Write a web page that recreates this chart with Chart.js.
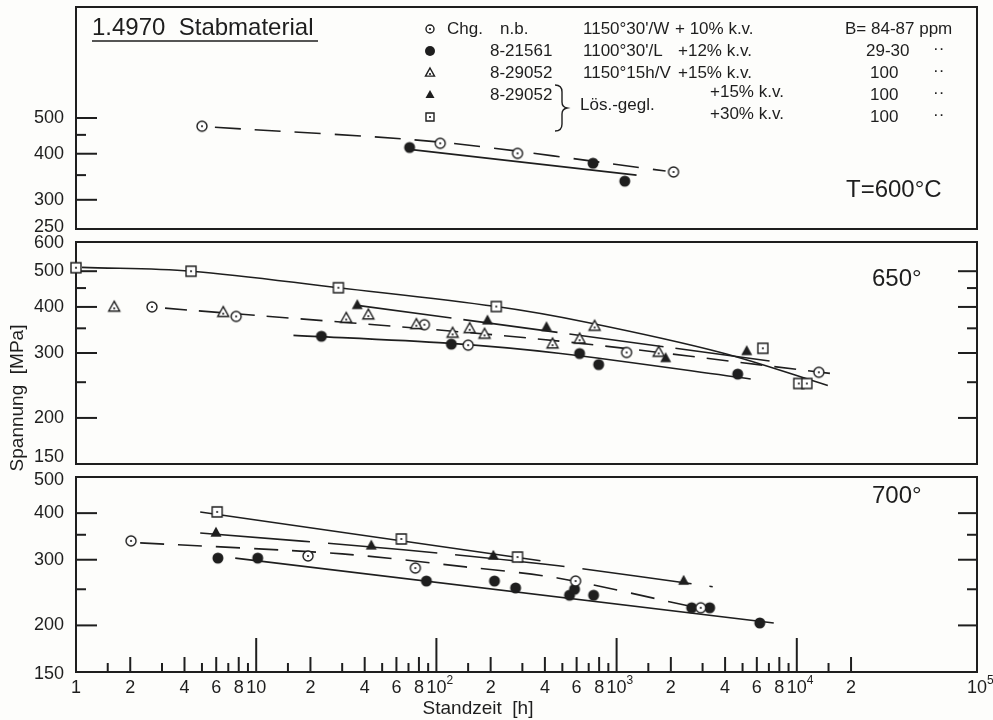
<!DOCTYPE html>
<html>
<head>
<meta charset="utf-8">
<title>1.4970 Stabmaterial</title>
<script src="https://cdn.jsdelivr.net/npm/chart.js@4.4.1/dist/chart.umd.min.js"></script>
<style>
  html, body { margin: 0; padding: 0; background: #fdfdfb; }
  #wrap { position: relative; width: 993px; height: 720px; }
  #wrap canvas { position: absolute; left: 0; top: 0; }
</style>
</head>
<body>
<div id="wrap">
  <canvas id="c600" width="993" height="720"></canvas>
  <canvas id="c650" width="993" height="720"></canvas>
  <canvas id="c700" width="993" height="720"></canvas>
</div>
<script>
/*---------- data: Standzeit [h] , Spannung [MPa] ----------*/
// T = 600 °C
const t600_open   = [[5, 475], [105, 427], [282, 401], [2070, 357]];
const t600_filled = [[71, 416], [740, 377], [1110, 337]];
const t600_fitDash  = [[5.9, 472], [105, 430], [1870, 359]];
const t600_fitSolid = [[71, 411], [1290, 350]];

// T = 650 °C
const t650_square    = [[1.0, 511], [4.35, 500], [28.6, 451], [215, 401], [6480, 309], [10260, 248], [11370, 248]];
const t650_openTri   = [[1.63, 399], [6.56, 386], [31.6, 372], [41.9, 380], [77.4, 358], [123, 339], [153, 349],
                        [185, 337], [441, 317], [623, 327], [755, 354], [1711, 301]];
const t650_filledTri = [[36.4, 404], [192, 367], [408, 352], [1872, 290], [5275, 303]];
const t650_open      = [[2.64, 400], [7.74, 377], [85.8, 358], [150, 315], [1136, 301], [13250, 266]];
const t650_filled    = [[23, 333], [121, 317], [623, 299], [795, 279], [4700, 263]];
const t650_fitSquare = [[1.08, 512], [4.35, 500], [28.6, 451], [215, 401], [690, 363], [3780, 301], [14860, 245]];
const t650_fitTri    = [[36.4, 404], [7170, 285]];
const t650_fitDash   = [[3.12, 397], [378, 327], [16480, 263]];
const t650_fitFilled = [[16.1, 335], [115, 319], [489, 299], [5550, 255]];

// T = 700 °C
const t700_square    = [[6.07, 403], [63.9, 341], [282, 305]];
const t700_filledTri = [[5.98, 354], [43.5, 327], [207, 307], [2355, 263]];
const t700_open      = [[2.02, 337], [19.4, 307], [76.4, 285], [592, 263], [2929, 223]];
const t700_filled    = [[6.13, 303], [10.2, 303], [88, 263], [210, 263], [275, 252], [548, 241], [584, 250],
                        [745, 241], [2610, 223], [3285, 223], [6230, 203]];
const t700_fitSquare = [[4.89, 403], [378, 298]];
const t700_fitTri    = [[4.89, 354], [65.6, 319], [476, 289], [3415, 254]];
const t700_fitDash   = [[2.27, 333], [30, 311], [145, 287], [470, 268], [2680, 224]];
const t700_fitFilled = [[7.65, 303], [7450, 203]];

// axes
const xLabelValues = [1, 2, 4, 6, 8, 10, 20, 40, 60, 80, 100, 200, 400, 600, 800, 1000,
                      2000, 4000, 6000, 8000, 10000, 20000, 100000];
const xLabelTexts  = ['1', '2', '4', '6', '8', '10', '2', '4', '6', '8', '10^2', '2', '4', '6', '8', '10^3',
                      '2', '4', '6', '8', '10^4', '2', '10^5'];
const xTicksLong   = [10, 100, 1000, 10000];
const xTicksMid    = [2, 4, 6, 8, 20, 40, 60, 80, 200, 400, 600, 800, 2000, 4000, 6000, 8000, 20000];
const xTicksShort  = [1.5, 3, 5, 7, 9, 15, 30, 50, 70, 90, 150, 300, 500, 700, 900,
                      1500, 3000, 5000, 7000, 9000, 15000];

const y600Labels = [250, 300, 400, 500];
const y650Labels = [150, 200, 300, 400, 500, 600];
const y700Labels = [150, 200, 300, 400, 500];

// legend text
const legendRows = [
  ['Chg.', 'n.b.', "1150°30'/W", '+ 10% k.v.', 'B= 84-87 ppm'],
  ['', '8-21561', "1100°30'/L", '+12% k.v.', '29-30'],
  ['', '8-29052', '1150°15h/V', '+15% k.v.', '100'],
  ['', '8-29052', '', '+15% k.v.', '100'],
  ['', '', '', '+30% k.v.', '100']
];

/*---------- drawing helpers ----------*/
const INK = '#1e1e1e';
const FONT = '"Liberation Sans", Arial, sans-serif';

function symbol(kind, s) {
  const c = document.createElement('canvas');
  c.width = 18; c.height = 18;
  const g = c.getContext('2d');
  g.translate(9, 9);
  g.strokeStyle = INK; g.fillStyle = INK; g.lineWidth = 1.4;
  g.beginPath();
  if (kind === 'circle' || kind === 'disc') {
    g.arc(0, 0, s / 2, 0, Math.PI * 2);
  } else if (kind === 'tri' || kind === 'solidTri') {
    const h = s * 0.9;
    g.moveTo(0, -h * 0.62); g.lineTo(s / 2, h * 0.38); g.lineTo(-s / 2, h * 0.38); g.closePath();
  } else {
    g.rect(-s / 2, -s / 2, s, s);
  }
  if (kind === 'disc' || kind === 'solidTri') {
    g.fill();
  } else {
    g.fillStyle = '#fff'; g.fill(); g.stroke();
    g.fillStyle = INK; g.beginPath(); g.arc(0, kind === 'tri' ? 1 : 0, 1.1, 0, Math.PI * 2); g.fill();
  }
  return c;
}
const SYM = {
  open: symbol('circle', 10), filled: symbol('disc', 11), openTri: symbol('tri', 11),
  filledTri: symbol('solidTri', 11), square: symbol('square', 10)
};
const LEG = {
  open: symbol('circle', 8), filled: symbol('disc', 10), openTri: symbol('tri', 9),
  filledTri: symbol('solidTri', 9), square: symbol('square', 8)
};

const pts = a => a.map(([x, y]) => ({x, y}));
function marks(data, sym) {
  return { data: pts(data), pointStyle: SYM[sym], pointRadius: 5, showLine: false, clip: false, order: 1 };
}
function fit(data, dash, tension) {
  return { data: pts(data), showLine: true, borderColor: INK, borderWidth: 1.6, borderDash: dash || [],
           pointRadius: 0, tension: tension || 0, order: 2, clip: false };
}

function seg(ctx, x1, y1, x2, y2) {
  ctx.beginPath(); ctx.moveTo(x1, y1); ctx.lineTo(x2, y2); ctx.stroke();
}

// frame, inside ticks and y labels of one panel
function framePlugin(cfg) {
  return {
    id: 'frame',
    beforeDatasetsDraw(chart) {
      const {ctx, chartArea: a, scales: {x, y}} = chart;
      ctx.save();
      ctx.strokeStyle = INK;
      ctx.lineWidth = 2;
      ctx.strokeRect(a.left, a.top, a.right - a.left, a.bottom - a.top);
      cfg.longTicks.forEach(v => {
        const py = y.getPixelForValue(v);
        seg(ctx, a.left, py, a.left + 21, py);
        if (cfg.rightTicks) seg(ctx, a.right - 19, py, a.right, py);
      });
      cfg.shortTicks.forEach(v => {
        const py = y.getPixelForValue(v);
        seg(ctx, a.left, py, a.left + 10, py);
        if (cfg.rightTicks) seg(ctx, a.right - 10, py, a.right, py);
      });
      if (cfg.xTicks) {
        xTicksLong.forEach(v => { const px = x.getPixelForValue(v); seg(ctx, px, a.bottom, px, a.bottom - 34); });
        xTicksMid.forEach(v => { const px = x.getPixelForValue(v); seg(ctx, px, a.bottom, px, a.bottom - 15); });
        xTicksShort.forEach(v => { const px = x.getPixelForValue(v); seg(ctx, px, a.bottom, px, a.bottom - 9); });
      }
      ctx.restore();
    },
    afterDraw(chart) {
      const {ctx, chartArea: a, scales: {x, y}} = chart;
      ctx.save();
      ctx.fillStyle = INK;
      ctx.font = `18px ${FONT}`;
      ctx.textAlign = 'right';
      ctx.textBaseline = 'middle';
      cfg.labels.forEach(v => {
        let py = y.getPixelForValue(v);
        if (v === cfg.min) py += cfg.minShift;
        if (v === cfg.max) py += cfg.maxShift;
        ctx.fillText(String(v), 64, py);
      });
      ctx.font = `24px ${FONT}`;
      ctx.textAlign = 'left';
      ctx.fillText(cfg.temp, cfg.tempX, cfg.tempY);
      if (cfg.extra) cfg.extra(ctx, a, x, y);
      ctx.restore();
    }
  };
}

function drawLegend(ctx) {
  ctx.font = `24px ${FONT}`;
  ctx.textAlign = 'left';
  ctx.fillText('1.4970  Stabmaterial', 92, 28);
  ctx.lineWidth = 1.6;
  ctx.strokeStyle = INK;
  seg(ctx, 92, 41, 318, 41);

  const rowY = [29, 51, 73, 95, 117];
  const syms = ['open', 'filled', 'openTri', 'filledTri', 'square'];
  ctx.font = `17px ${FONT}`;
  legendRows.forEach((r, i) => {
    const yy = rowY[i];
    const img = LEG[syms[i]];
    ctx.drawImage(img, 430 - img.width / 2, yy - img.height / 2);
    if (r[0]) ctx.fillText(r[0], 447, yy);
    if (r[1]) ctx.fillText(r[1], i === 0 ? 500 : 490, yy);
    if (r[2]) ctx.fillText(r[2], 583, yy);
    if (r[3]) ctx.fillText(r[3], i === 0 ? 675 : (i < 3 ? 678 : 710), i < 3 ? yy : yy - 3);
    if (r[4]) ctx.fillText(r[4], i === 0 ? 845 : (i === 1 ? 866 : 870), yy);
    if (i > 0) ctx.fillText('··', 933, yy - 2);
  });
  ctx.fillText('Lös.-gegl.', 580, 105);
  // brace
  ctx.lineWidth = 1.4;
  ctx.beginPath();
  ctx.moveTo(555, 85);
  ctx.quadraticCurveTo(562, 85, 562, 92);
  ctx.lineTo(562, 102);
  ctx.quadraticCurveTo(562, 107, 567, 108);
  ctx.quadraticCurveTo(562, 109, 562, 114);
  ctx.lineTo(562, 124);
  ctx.quadraticCurveTo(562, 131, 555, 131);
  ctx.stroke();
}

function drawYTitle(ctx) {
  ctx.save();
  ctx.translate(18, 398);
  ctx.rotate(-Math.PI / 2);
  ctx.textAlign = 'center';
  ctx.font = `19px ${FONT}`;
  ctx.fillText('Spannung  [MPa]', 0, 0);
  ctx.restore();
}

function drawXAxis(ctx, a, x) {
  ctx.textBaseline = 'middle';
  xLabelValues.forEach((v, i) => {
    const px = x.getPixelForValue(v);
    const [base, sup] = xLabelTexts[i].split('^');
    ctx.font = `18px ${FONT}`;
    ctx.textAlign = 'center';
    ctx.fillText(base, px, 688);
    if (sup) {
      const w = ctx.measureText(base).width;
      ctx.font = `12px ${FONT}`;
      ctx.textAlign = 'left';
      ctx.fillText(sup, px + w / 2, 681);
    }
  });
  ctx.font = `19px ${FONT}`;
  ctx.textAlign = 'center';
  ctx.fillText('Standzeit  [h]', 478, 709);
}

function panelChart(id, cfg) {
  return new Chart(document.getElementById(id), {
    type: 'scatter',
    data: { datasets: cfg.datasets },
    options: {
      responsive: false,
      animation: false,
      devicePixelRatio: 1,
      events: [],
      layout: { padding: { left: 76, right: 993 - 977, top: cfg.top, bottom: 720 - cfg.bottom } },
      plugins: { legend: { display: false }, tooltip: { enabled: false } },
      scales: {
        x: { type: 'logarithmic', min: 1, max: 100000, display: false },
        y: { type: 'logarithmic', min: cfg.min, max: cfg.max, display: false }
      }
    },
    plugins: [framePlugin(cfg)]
  });
}

/*---------- panels ----------*/
panelChart('c600', {
  top: 7, bottom: 229, min: 250, max: 1000,
  labels: y600Labels, longTicks: [300, 400, 500], shortTicks: [350, 450], rightTicks: false,
  minShift: -2, maxShift: 0, temp: 'T=600°C', tempX: 846, tempY: 190,
  extra: drawLegend,
  datasets: [
    marks(t600_open, 'open'), marks(t600_filled, 'filled'),
    fit(t600_fitDash, [26, 14], 0.3), fit(t600_fitSolid)
  ]
});

panelChart('c650', {
  top: 242, bottom: 464, min: 150, max: 600,
  labels: y650Labels, longTicks: [200, 300, 400, 500], shortTicks: [250, 350, 450], rightTicks: true,
  minShift: -7, maxShift: 1, temp: '650°', tempX: 872, tempY: 279,
  extra: drawYTitle,
  datasets: [
    marks(t650_square, 'square'), marks(t650_openTri, 'openTri'), marks(t650_filledTri, 'filledTri'),
    marks(t650_open, 'open'), marks(t650_filled, 'filled'),
    fit(t650_fitSquare, [], 0.35), fit(t650_fitTri, [95, 12]),
    fit(t650_fitDash, [22, 12], 0.3), fit(t650_fitFilled, [], 0.3)
  ]
});

panelChart('c700', {
  top: 477, bottom: 672, min: 150, max: 500,
  labels: y700Labels, longTicks: [200, 300, 400], shortTicks: [250, 350], rightTicks: true, xTicks: true,
  minShift: 2, maxShift: 3, temp: '700°', tempX: 872, tempY: 496,
  extra: drawXAxis,
  datasets: [
    marks(t700_square, 'square'), marks(t700_filledTri, 'filledTri'),
    marks(t700_open, 'open'), marks(t700_filled, 'filled'),
    fit(t700_fitSquare), fit(t700_fitTri, [110, 18], 0.3),
    fit(t700_fitDash, [24, 14], 0.3), fit(t700_fitFilled)
  ]
});
</script>
</body>
</html>
